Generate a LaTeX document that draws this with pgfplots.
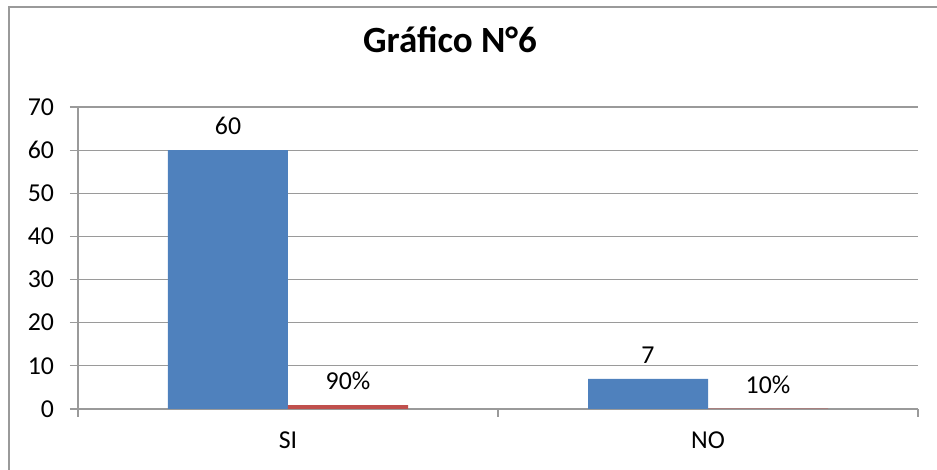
\documentclass[border=0pt]{standalone}
\usepackage{pgfplots}
\pgfplotsset{compat=1.18}
\usepackage{fontspec}
\setmainfont{Carlito}
\definecolor{barblue}{HTML}{4F81BD}
\definecolor{barred}{HTML}{C0504D}
\definecolor{gridgray}{HTML}{9A9A9A}
\begin{document}
\begin{tikzpicture}[x=0.5pt,y=0.5pt]
% bounding box in px relative to axis origin (78,409)
\path[use as bounding box] (-78,-61) rectangle (859,409);
\draw[gridgray, line width=1.2pt] (-69,-61) -- (-69,402) -- (859,402);
\node[anchor=base, font=\fontsize{18.5}{20}\selectfont\bfseries] at (372,356) {Gráfico N°6};
\begin{axis}[
  at={(0,0)}, anchor=south west,
  scale only axis, width=420pt, height=151pt,
  ybar=0pt, bar width=60pt,
  xmin=-0.5, xmax=1.5, ymin=0, ymax=70,
  ytick={0,10,...,70},
  xtick={0,1}, xticklabels={SI,NO},
  minor xtick={-0.5,0.5,1.5},
  major x tick style={draw=none},
  minor x tick style={gridgray, line width=0.6pt},
  minor tick length=4pt, major tick length=4pt,
  y tick style={gridgray, line width=0.6pt},
  tick align=outside,
  axis lines*=left,
  axis line style={gridgray, line width=0.6pt},
  ymajorgrids, grid style={gridgray, line width=0.6pt},
  tick label style={font=\fontsize{12.9}{15}\selectfont},
  /pgf/number format/assume math mode=true,
  xticklabel style={yshift=-4pt},
  yticklabel style={xshift=-4.5pt},
  point meta=explicit symbolic,
  nodes near coords={\pgfplotspointmeta},
  nodes near coords style={font=\fontsize{12.9}{15}\selectfont, text=black, yshift=4pt},
  clip=false,
]
\addplot[fill=barblue, draw=none] coordinates {(0,60) [60] (1,7) [7]};
\addplot[fill=barred, draw=none] coordinates {(0,0.9) [90\%] (1,0.1) [10\%]};
\end{axis}
\end{tikzpicture}
\end{document}
